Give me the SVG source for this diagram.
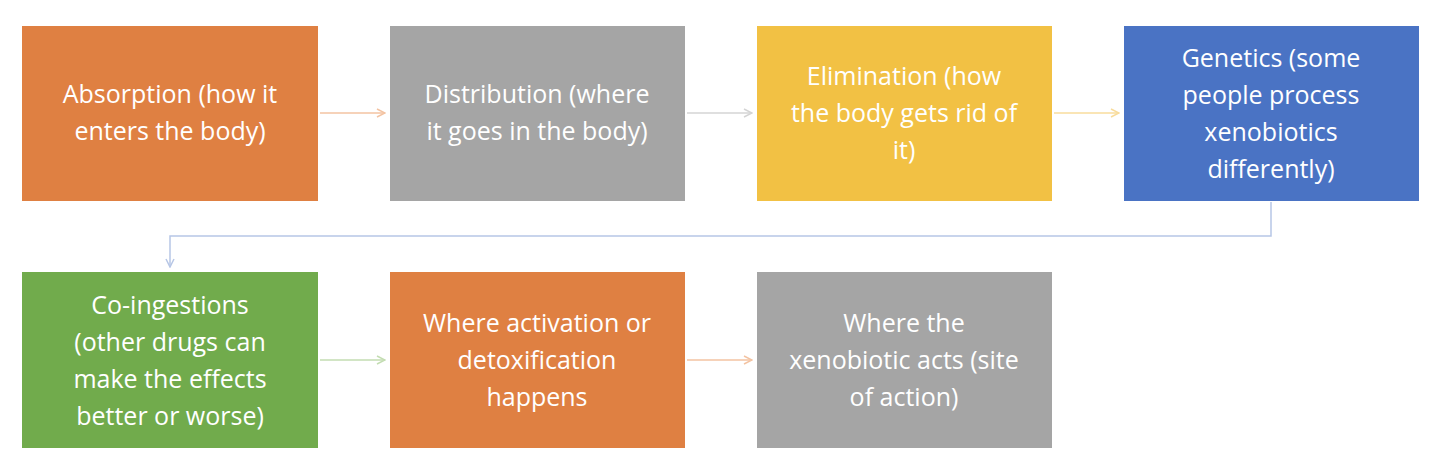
<svg xmlns="http://www.w3.org/2000/svg" width="1440" height="469" viewBox="0 0 1440 469">
<style>
text{font-family:"Open Sans","Liberation Sans",sans-serif;font-size:25px;fill:#fff;text-anchor:middle}
.c{fill:none;stroke-width:1.5}
</style>
<defs>
<marker id="a" markerWidth="10" markerHeight="10" refX="9" refY="5" orient="auto" markerUnits="userSpaceOnUse"><path d="M1,1 L9,5 L1,9" fill="none" stroke="context-stroke" stroke-width="1.5"/></marker>
</defs>
<rect width="1440" height="469" fill="#fff"/>
<g id="connectors">
<line class="c" x1="320" y1="113" x2="385" y2="113" stroke="#F3C3A2" marker-end="url(#a)"/>
<line class="c" x1="687" y1="113" x2="752" y2="113" stroke="#D4D4D4" marker-end="url(#a)"/>
<line class="c" x1="1054" y1="113" x2="1119" y2="113" stroke="#F8DC9C" marker-end="url(#a)"/>
<path class="c" d="M1271,202 V236 H170 V267" stroke="#B7C6E6" marker-end="url(#a)"/>
<line class="c" x1="320" y1="360" x2="385" y2="360" stroke="#C3DDB2" marker-end="url(#a)"/>
<line class="c" x1="687" y1="360" x2="752" y2="360" stroke="#F3C3A2" marker-end="url(#a)"/>
</g>
<g id="n1"><rect x="22" y="26" width="296" height="175" fill="#DF8042"/><text x="170" y="103">Absorption (how it</text><text x="170" y="140">enters the body)</text></g>
<g id="n2"><rect x="390" y="26" width="295" height="175" fill="#A5A5A5"/><text x="537" y="103">Distribution (where</text><text x="537" y="140">it goes in the body)</text></g>
<g id="n3"><rect x="757" y="26" width="295" height="175" fill="#F2C144"/><text x="904" y="85">Elimination (how</text><text x="904" y="122">the body gets rid of</text><text x="904" y="159">it)</text></g>
<g id="n4"><rect x="1124" y="26" width="295" height="175" fill="#4A73C4"/><text x="1271" y="67">Genetics (some</text><text x="1271" y="104">people process</text><text x="1271" y="141">xenobiotics</text><text x="1271" y="178">differently)</text></g>
<g id="n5"><rect x="22" y="272" width="296" height="176" fill="#71AB4C"/><text x="170" y="314">Co-ingestions</text><text x="170" y="351">(other drugs can</text><text x="170" y="388">make the effects</text><text x="170" y="425">better or worse)</text></g>
<g id="n6"><rect x="390" y="272" width="295" height="176" fill="#DF8042"/><text x="537" y="332">Where activation or</text><text x="537" y="369">detoxification</text><text x="537" y="406">happens</text></g>
<g id="n7"><rect x="757" y="272" width="295" height="176" fill="#A5A5A5"/><text x="904" y="332">Where the</text><text x="904" y="369">xenobiotic acts (site</text><text x="904" y="406">of action)</text></g>
</svg>
